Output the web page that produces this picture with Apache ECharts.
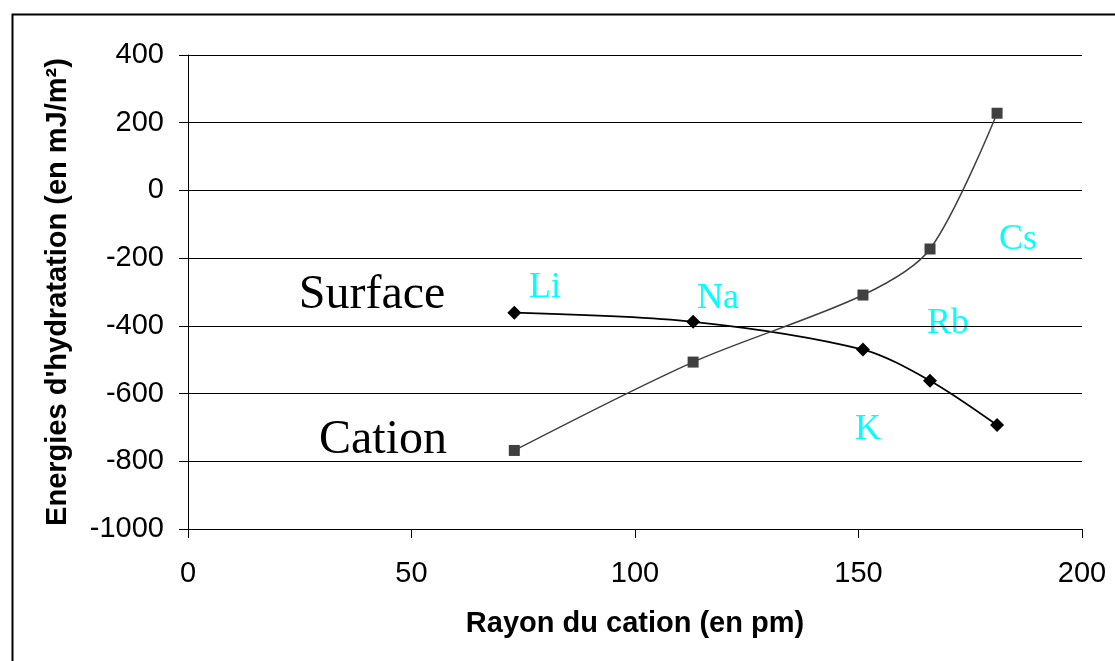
<!DOCTYPE html>
<html><head><meta charset="utf-8">
<script src="https://cdn.jsdelivr.net/npm/echarts@6/dist/echarts.min.js"></script>
<style>html,body{margin:0;padding:0;background:#fff}#c{width:1115px;height:661px}</style>
</head><body><div id="c"></div>
<script>
const radius = [73, 113, 151, 166, 181];
const elements = ['Li', 'Na', 'K', 'Rb', 'Cs'];
const surfaceEnergy = [-361, -388, -470, -562, -693];
const cationEnergy = [-768, -507, -309, -173, 228];
const yTicks = {min: -1000, max: 400, interval: 200};
const xTicks = {min: 0, max: 200, interval: 50};
const xTitle = 'Rayon du cation (en pm)';
const yTitle = "Energies d'hydratation (en mJ/m²)";

const chart = echarts.init(document.getElementById('c'), null, {renderer: 'canvas'});
const axisFont = {fontFamily: 'Liberation Sans, Arial', fontSize: 29, color: '#000', formatter: v => String(v)};
const cyan = '#00FFFF';
const serif = 'Liberation Serif, Times New Roman';
function label(txt, x, y, size, color) {
  return {type: 'text', x: x, y: y, style: {text: txt, fontFamily: serif, fontSize: size, fill: color, align: 'center', verticalAlign: 'top'}};
}
chart.setOption({
  animation: false,
  backgroundColor: '#fff',
  grid: {left: 188, right: 33, top: 55, bottom: 132, containLabel: false},
  xAxis: {
    type: 'value', min: xTicks.min, max: xTicks.max, interval: xTicks.interval,
    name: xTitle, nameLocation: 'middle', nameGap: 80,
    nameTextStyle: {fontFamily: 'Liberation Sans, Arial', fontSize: 29, fontWeight: 'bold', color: '#000'},
    axisLine: {show: true, onZero: false, lineStyle: {color: '#000', width: 1}},
    axisTick: {show: true, length: 9, lineStyle: {color: '#000'}},
    axisLabel: Object.assign({margin: 30}, axisFont),
    splitLine: {show: false}
  },
  yAxis: {
    type: 'value', min: yTicks.min, max: yTicks.max, interval: yTicks.interval,
    name: yTitle, nameLocation: 'middle', nameGap: 116,
    nameTextStyle: {fontFamily: 'Liberation Sans, Arial', fontSize: 29, fontWeight: 'bold', color: '#000'},
    axisLine: {show: true, lineStyle: {color: '#000', width: 1}},
    axisTick: {show: true, length: 9, lineStyle: {color: '#000'}},
    axisLabel: Object.assign({margin: 24}, axisFont),
    splitLine: {show: true, lineStyle: {color: '#000', width: 1}}
  },
  series: [
    {
      name: 'Surface', type: 'line', smooth: 0.3,
      data: radius.map((r, i) => [r, surfaceEnergy[i]]),
      symbol: 'diamond', symbolSize: 14,
      itemStyle: {color: '#000'},
      lineStyle: {color: '#000', width: 1.8}
    },
    {
      name: 'Cation', type: 'line', smooth: 0.3,
      data: radius.map((r, i) => [r, cationEnergy[i]]),
      symbol: 'rect', symbolSize: 11,
      itemStyle: {color: '#404040'},
      lineStyle: {color: '#404040', width: 1.5}
    }
  ],
  graphic: [
    {type: 'rect', left: 10, top: 12, shape: {width: 1120, height: 670}, style: {fill: 'none', stroke: '#000', lineWidth: 2}, silent: true},
    label('Surface', 372, 271, 48, '#000'),
    label('Cation', 383, 416, 48, '#000'),
    label(elements[0], 545, 270, 36, cyan),
    label(elements[1], 718, 281, 36, cyan),
    label(elements[2], 868, 412, 36, cyan),
    label(elements[3], 948, 306, 36, cyan),
    label(elements[4], 1018, 222, 36, cyan)
  ]
});
</script></body></html>
